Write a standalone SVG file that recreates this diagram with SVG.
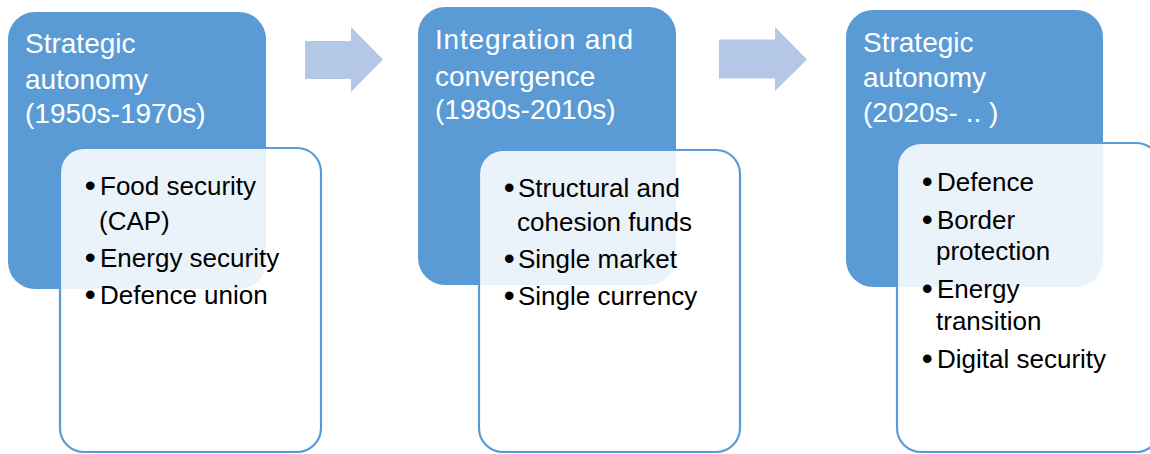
<svg xmlns="http://www.w3.org/2000/svg" width="1150" height="454" viewBox="0 0 1150 454">
<style>
.hdr{fill:#5b9bd5;}
.body{fill:#ffffff;fill-opacity:0.88;stroke:#5b9bd5;stroke-width:2.2;}
.ttl{font-family:"Liberation Sans",Arial,sans-serif;font-size:28px;fill:#ffffff;}
.itm{font-family:"Liberation Sans",Arial,sans-serif;font-size:26px;fill:#000000;}
.bul{font-family:"Liberation Sans",Arial,sans-serif;font-size:30px;font-weight:bold;fill:#000000;}
.arr{fill:#b4c7e7;}
</style>
<rect x="0" y="0" width="1150" height="454" fill="#ffffff"/>
<g id="connectors">
<polygon class="arr" points="305,41 351,41 351,27 383,59.5 351,92 351,79 305,79"/>
<polygon class="arr" points="719,39.5 775,39.5 775,27 807,59.5 775,91 775,78.5 719,78.5"/>
</g>
<g id="node1">
<rect class="hdr" x="8" y="12" width="258" height="277" rx="27"/>
<rect class="body" x="60" y="148" width="261" height="304" rx="24"/>
<text class="ttl" x="25" y="53">Strategic</text>
<text class="ttl" x="25" y="89">autonomy</text>
<text class="ttl" x="25" y="123">(1950s-1970s)</text>
<text class="bul" x="85" y="196">•</text><text class="itm" x="100" y="195">Food security</text>
<text class="itm" x="99" y="230">(CAP)</text>
<text class="bul" x="85" y="268">•</text><text class="itm" x="100" y="267">Energy security</text>
<text class="bul" x="85" y="305">•</text><text class="itm" x="100" y="304">Defence union</text>
</g>
<g id="node2">
<rect class="hdr" x="418" y="7" width="258" height="278" rx="27"/>
<rect class="body" x="479" y="150" width="261" height="302" rx="24"/>
<text class="ttl" x="435" y="49" textLength="198" lengthAdjust="spacing">Integration and</text>
<text class="ttl" x="435" y="86">convergence</text>
<text class="ttl" x="435" y="119">(1980s-2010s)</text>
<text class="bul" x="504" y="198">•</text><text class="itm" x="518" y="197">Structural and</text>
<text class="itm" x="517" y="231">cohesion funds</text>
<text class="bul" x="504" y="269">•</text><text class="itm" x="518" y="268">Single market</text>
<text class="bul" x="504" y="306">•</text><text class="itm" x="518" y="305">Single currency</text>
</g>
<g id="node3">
<rect class="hdr" x="846" y="10" width="257" height="277" rx="27"/>
<rect class="body" x="897" y="143" width="263" height="309" rx="24"/>
<text class="ttl" x="863" y="52">Strategic</text>
<text class="ttl" x="863" y="87">autonomy</text>
<text class="ttl" x="863" y="122">(2020s-  .. )</text>
<text class="bul" x="922" y="192">•</text><text class="itm" x="937" y="191">Defence</text>
<text class="bul" x="922" y="230">•</text><text class="itm" x="937" y="229">Border</text>
<text class="itm" x="936" y="260">protection</text>
<text class="bul" x="922" y="299">•</text><text class="itm" x="937" y="298">Energy</text>
<text class="itm" x="936" y="330">transition</text>
<text class="bul" x="922" y="369">•</text><text class="itm" x="937" y="368">Digital security</text>
</g>
</svg>
